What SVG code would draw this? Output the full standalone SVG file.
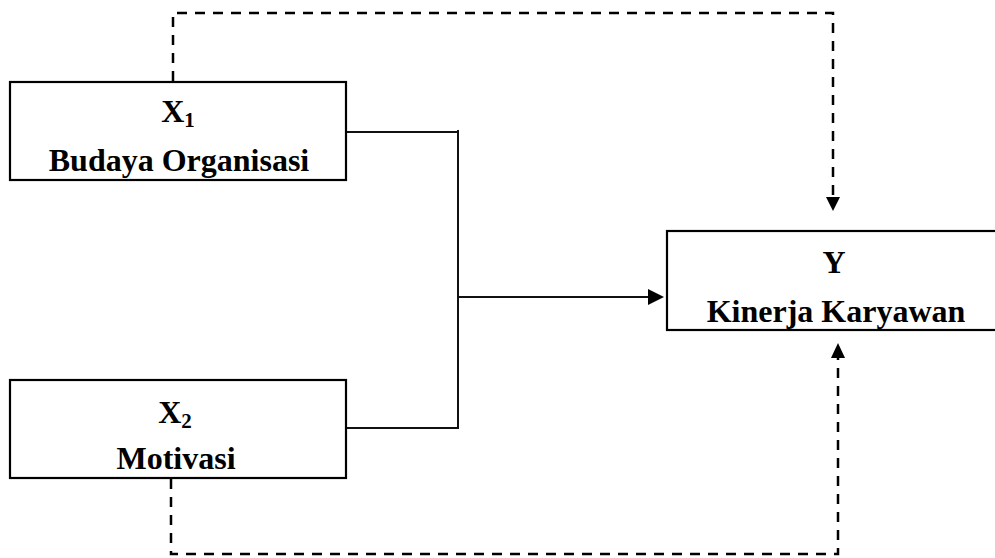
<svg xmlns="http://www.w3.org/2000/svg" width="995" height="558" viewBox="0 0 995 558">
<style>
.box{fill:#fff;stroke:#000;stroke-width:2.2}
.t{font-family:"Liberation Serif","Times New Roman",serif;font-weight:bold;font-size:32px;fill:#000;text-anchor:middle}
.sub{font-size:21px}
.solid{fill:none;stroke:#111;stroke-width:2}
.dash{fill:none;stroke:#000;stroke-width:2.5;stroke-dasharray:10 8}
.head{fill:#000}
</style>
<rect width="995" height="558" fill="#fff"/>
<g id="connectors">
<path class="dash" d="M173,81 V13 H833 V198"/>
<polygon class="head" points="826,197 840,197 833,211"/>
<path class="dash" d="M171,479 V554 H838 V358"/>
<polygon class="head" points="831,358 845,358 838,343"/>
<path class="solid" d="M342,132 H458 M458,130 V429 M344,428 H459 M458,297 H650"/>
<polygon class="head" points="648,289 648,305 664,297"/>
</g>
<g id="x1">
<rect class="box" x="10" y="82" width="336" height="98"/>
<text class="t" x="178" y="122">X<tspan class="sub" dy="5">1</tspan></text>
<text class="t" x="179" y="171">Budaya Organisasi</text>
</g>
<g id="x2">
<rect class="box" x="10" y="380" width="336" height="98"/>
<text class="t" x="175" y="423">X<tspan class="sub" dy="5">2</tspan></text>
<text class="t" x="176" y="469">Motivasi</text>
</g>
<g id="y">
<rect class="box" x="667" y="231" width="340" height="99"/>
<text class="t" x="834" y="273">Y</text>
<text class="t" x="836" y="322">Kinerja Karyawan</text>
</g>
</svg>
